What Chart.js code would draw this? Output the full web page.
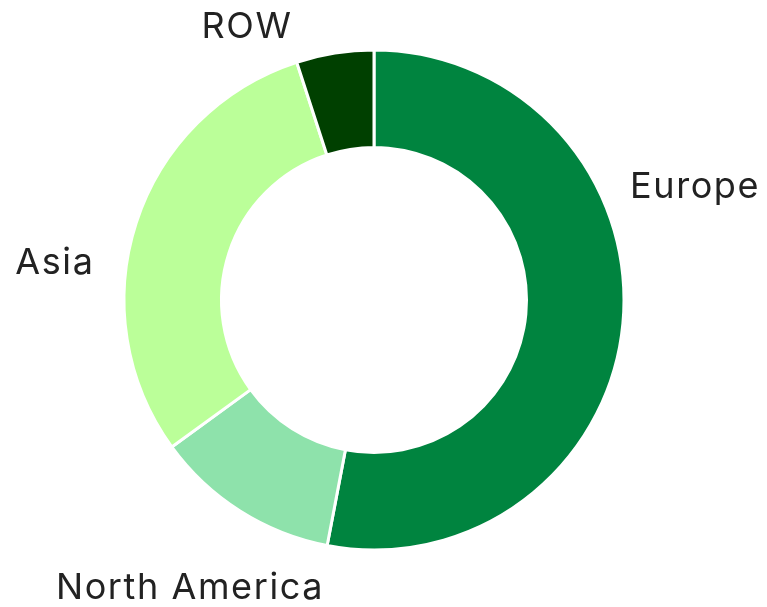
<!DOCTYPE html>
<html>
<head>
<meta charset="utf-8">
<script src="https://cdn.jsdelivr.net/npm/chart.js@4.4.1/dist/chart.umd.min.js"></script>
<style>
  html, body { margin: 0; padding: 0; background: #ffffff; }
  #regionChart { display: block; }
</style>
</head>
<body>
<canvas id="regionChart" width="767" height="607"></canvas>
<script>
const regions = ["Europe", "North America", "Asia", "ROW"];
const shares = [53, 12, 30, 5];
const sliceColors = ["#00843F", "#8EE2AB", "#BBFF99", "#004000"];

// where each label sits, relative to the centre, in outer-radius units
const labelSpots = [
  { x: 1.024, y: -0.452, align: "left" },
  { x: -0.736, y: 1.152, align: "center" },
  { x: -1.118, y: -0.148, align: "right" },
  { x: -0.508, y: -1.092, align: "center" },
];

const outsideLabels = {
  id: "outsideLabels",
  afterDatasetsDraw(chart) {
    const ctx = chart.ctx;
    const meta = chart.getDatasetMeta(0);
    ctx.save();
    ctx.font = "36px Inter";
    ctx.letterSpacing = "1.6px";
    ctx.fillStyle = "#222222";
    ctx.textBaseline = "middle";
    meta.data.forEach((arc, i) => {
      const spot = labelSpots[i];
      ctx.textAlign = spot.align;
      ctx.fillText(
        chart.data.labels[i],
        arc.x + spot.x * arc.outerRadius,
        arc.y + spot.y * arc.outerRadius
      );
    });
    ctx.restore();
  },
};

const ctx = document.getElementById("regionChart").getContext("2d");
const myChart = new Chart(ctx, {
  type: "doughnut",
  data: {
    labels: regions,
    datasets: [
      {
        data: shares,
        backgroundColor: sliceColors,
        borderColor: "#ffffff",
        borderWidth: 3,
        radius: 250,
      },
    ],
  },
  options: {
    responsive: false,
    animation: false,
    cutout: "61%",
    layout: {
      padding: { left: 124, right: 143, top: 50, bottom: 57 },
    },
    plugins: {
      legend: { display: false },
      tooltip: { enabled: false },
    },
  },
  plugins: [outsideLabels],
});
</script>
</body>
</html>
